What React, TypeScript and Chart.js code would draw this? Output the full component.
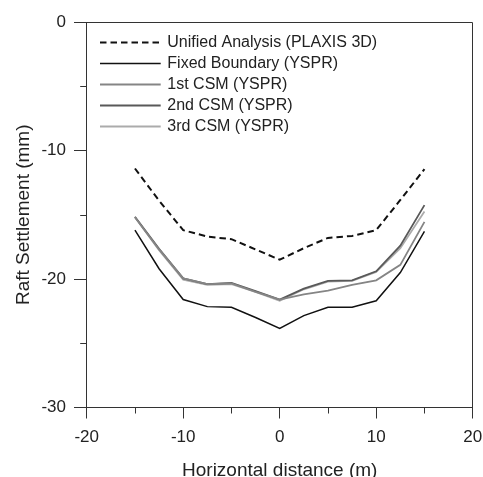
import React, { useEffect, useRef } from "react";
import { Chart, registerables } from "chart.js";

Chart.register(...registerables);

// ---- data ----
const xValues = [-15, -12.5, -10, -7.5, -5, -2.5, 0, 2.5, 5, 7.5, 10, 12.5, 15];
const unifiedPlaxis = [-11.4, -13.9, -16.2, -16.7, -16.9, -17.7, -18.5, -17.6, -16.8, -16.65, -16.2, -13.85, -11.45];
const fixedBoundary = [-16.2, -19.2, -21.6, -22.15, -22.2, -23.0, -23.85, -22.85, -22.2, -22.2, -21.7, -19.5, -16.3];
const csm1 = [-15.2, -17.7, -19.95, -20.4, -20.35, -21.0, -21.6, -21.2, -20.9, -20.45, -20.1, -18.9, -15.55];
const csm2 = [-15.15, -17.65, -19.95, -20.4, -20.3, -20.95, -21.6, -20.75, -20.15, -20.1, -19.4, -17.4, -14.25];
const csm3 = [-15.2, -17.75, -20.05, -20.45, -20.4, -21.0, -21.7, -20.8, -20.2, -20.15, -19.45, -17.6, -14.75];
const seriesLabels = [
  "Unified Analysis (PLAXIS 3D)",
  "Fixed Boundary (YSPR)",
  "1st CSM (YSPR)",
  "2nd CSM (YSPR)",
  "3rd CSM (YSPR)",
];
const xMinorTicks = [-15, -5, 5, 15];
const yMinorTicks = [-5, -15, -25];
const xTitle = "Horizontal distance (m)";
const yTitle = "Raft Settlement (mm)";

const FONT = "'Liberation Sans', Arial, Helvetica, sans-serif";
const AXIS = "#333333";
const TEXT = "#222222";

const toPoints = (ys: number[]) => xValues.map((x, i) => ({ x, y: ys[i] }));

const framePlugin = {
  id: "frameMinorLegend",
  afterDraw(chart: any) {
    const { ctx, chartArea: a, scales } = chart;
    const xs = scales.x;
    const ys = scales.y;
    ctx.save();
    ctx.strokeStyle = AXIS;
    ctx.lineWidth = 1;
    ctx.setLineDash([]);
    ctx.beginPath();
    const top = Math.round(a.top) + 0.5;
    const right = Math.round(a.right) - 0.5;
    ctx.moveTo(a.left, top);
    ctx.lineTo(right, top);
    ctx.lineTo(right, a.bottom);
    for (const v of xMinorTicks) {
      const px = Math.round(xs.getPixelForValue(v)) + 0.5;
      ctx.moveTo(px, a.bottom);
      ctx.lineTo(px, a.bottom + 6);
    }
    for (const v of yMinorTicks) {
      const py = Math.round(ys.getPixelForValue(v)) + 0.5;
      ctx.moveTo(a.left, py);
      ctx.lineTo(a.left - 6.5, py);
    }
    ctx.stroke();

    // legend
    const ds = chart.data.datasets;
    ctx.font = `16px ${FONT}`;
    ctx.textBaseline = "middle";
    ctx.textAlign = "left";
    ds.forEach((d: any, i: number) => {
      const y = Math.round(a.top + 19.7 + i * 21) + 0.5;
      ctx.beginPath();
      ctx.strokeStyle = d.borderColor;
      ctx.lineWidth = d.borderWidth;
      ctx.setLineDash(d.borderDash || []);
      ctx.moveTo(a.left + 13.3, y);
      ctx.lineTo(a.left + 74, y);
      ctx.stroke();
      ctx.setLineDash([]);
      ctx.fillStyle = TEXT;
      ctx.fillText(d.label, a.left + 80.6, y);
    });
    ctx.restore();
  },
};

export default function App() {
  const ref = useRef<HTMLCanvasElement | null>(null);
  useEffect(() => {
    if (!ref.current) return;
    const chart = new Chart(ref.current, {
      type: "line",
      data: {
        datasets: [
          { label: seriesLabels[0], data: toPoints(unifiedPlaxis), borderColor: "#111111", borderWidth: 2, borderDash: [6.5, 4] },
          { label: seriesLabels[1], data: toPoints(fixedBoundary), borderColor: "#111111", borderWidth: 1.5 },
          { label: seriesLabels[2], data: toPoints(csm1), borderColor: "#858585", borderWidth: 1.8 },
          { label: seriesLabels[3], data: toPoints(csm2), borderColor: "#595959", borderWidth: 1.8 },
          { label: seriesLabels[4], data: toPoints(csm3), borderColor: "#ababab", borderWidth: 1.8 },
        ],
      },
      options: {
        animation: false,
        responsive: false,
        devicePixelRatio: 1,
        layout: { padding: { top: 22, right: 10.3, left: 0, bottom: 0 } },
        elements: { point: { radius: 0 }, line: { tension: 0, fill: false } },
        plugins: { legend: { display: false }, tooltip: { enabled: false } },
        scales: {
          x: {
            type: "linear",
            min: -20,
            max: 20,
            ticks: { stepSize: 10, color: TEXT, font: { family: FONT, size: 17 }, padding: 8.8, maxRotation: 0 },
            grid: { drawOnChartArea: false, tickLength: 11, color: AXIS, tickColor: AXIS },
            border: { color: AXIS, width: 1 },
            title: {
              display: true,
              text: xTitle,
              color: TEXT,
              font: { family: FONT, size: 19, lineHeight: 1 },
              padding: { top: 0, bottom: -3 },
            },
            afterFit(s: any) {
              s.height = 69.5;
              s.paddingLeft = 0;
              s.paddingRight = 0;
            },
          },
          y: {
            type: "linear",
            min: -30,
            max: 0,
            ticks: { stepSize: 10, color: TEXT, font: { family: FONT, size: 17 }, padding: 8 },
            grid: { drawOnChartArea: false, tickLength: 12.7, color: AXIS, tickColor: AXIS },
            border: { color: AXIS, width: 1 },
            title: {
              display: true,
              text: yTitle,
              color: TEXT,
              font: { family: FONT, size: 19, lineHeight: 1.2 },
              padding: { top: 12.5, bottom: 0 },
            },
            afterFit(s: any) {
              s.width = 86.7;
              s.paddingTop = 0;
              s.paddingBottom = 0;
            },
          },
        },
      },
      plugins: [framePlugin],
    } as any);
    return () => chart.destroy();
  }, []);
  return (
    <div style={{ position: "fixed", left: 0, top: 0, width: 483, height: 477, background: "#fff" }}>
      <canvas ref={ref} width={483} height={477} style={{ display: "block" }} />
    </div>
  );
}
